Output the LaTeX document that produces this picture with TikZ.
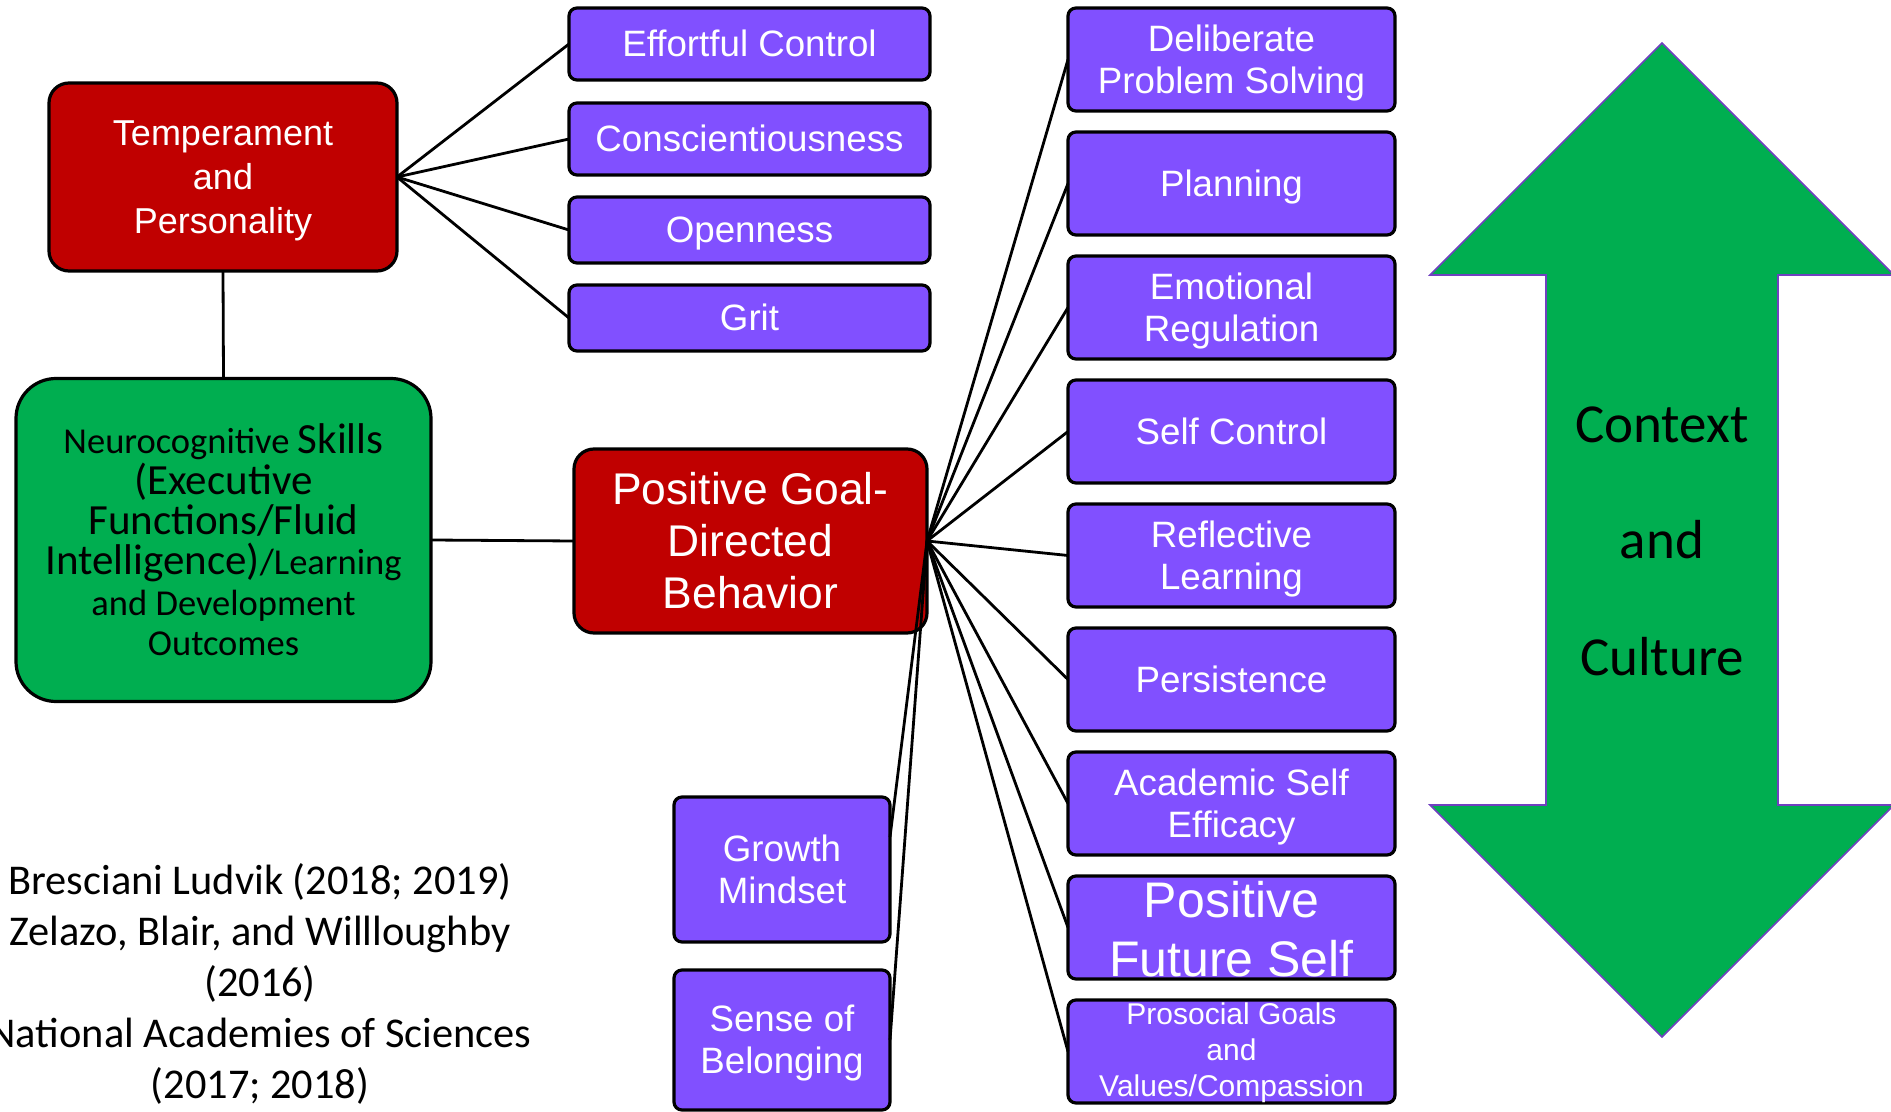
\documentclass[tikz,border=0pt]{standalone}
\usepackage{fontspec}
\setmainfont{Liberation Sans}
\newfontfamily\calibri{Carlito}
\usepackage{tikz}
\usetikzlibrary{positioning}
\usetikzlibrary{calc}
\definecolor{boxred}{HTML}{C00000}
\definecolor{boxpurple}{HTML}{8150FF}
\definecolor{boxgreen}{HTML}{00AE50}
\definecolor{arrowedge}{HTML}{7040C0}
\newcommand{\ncsmall}{\fontsize{18.25}{20.2}\selectfont}
\newcommand{\nclarge}{\fontsize{21.5}{20.2}\selectfont}
\newcommand{\lstrut}{\rule[-0.212em]{0pt}{1.117em}}

\begin{document}
\begin{tikzpicture}[x=0.5pt,y=-0.5pt,
  boxed/.style={draw,line width=1.6pt,text=white,align=center,inner sep=0pt,outer sep=0pt},
  struts/.style={execute at begin node=\lstrut, execute at end node=\lstrut},
  purple/.style={boxed,rounded corners=4pt,fill=boxpurple,font=\fontsize{18.35}{21}\selectfont},
  trait/.style={purple,struts},
  wide/.style={purple,minimum width=163.5pt,minimum height=51.5pt},
  side/.style={wide,struts},
  top/.style={trait,minimum width=180.5pt},
  redbox/.style={boxed,struts,rounded corners=10pt,fill=boxred},
  link/.style={line width=1.4pt}]
\useasboundingbox (0,0) rectangle (1891,1112);

% context and culture arrow
\filldraw[fill=boxgreen, draw=arrowedge, line width=0.8pt] (1662,43) -- (1894,275) -- (1778,275) -- (1778,805) -- (1894,805)
  -- (1662,1037) -- (1430,805) -- (1546,805) -- (1546,275) -- (1430,275) -- cycle;
\node[font=\calibri\fontsize{27.5}{58.25}\selectfont, align=center] (ctx) at (1662,541) {Context\\and\\Culture};

% left column
\node[redbox, minimum width=174pt, minimum height=94pt, font=\fontsize{18}{22}\selectfont] (temp) at (223,177) {\lstrut Temperament\\and\\Personality};
\node[draw, line width=1.6pt, rounded corners=20pt, fill=boxgreen, align=center, inner sep=0pt, outer sep=0pt,
  minimum width=207.5pt, minimum height=161.5pt, font=\calibri\ncsmall] (neuro) at (223.5,540)
  {Neurocognitive {\nclarge Skills}\\{\nclarge (Executive}\\{\nclarge Functions/Fluid}\\{\nclarge Intelligence)}/Learning\\and Development\\Outcomes};
\node[font=\calibri\fontsize{21.2}{25.6}\selectfont, align=center] (refs) at (260,984)
  {Bresciani Ludvik (2018; 2019)\\Zelazo, Blair, and Willloughby\\(2016)\\National Academies of Sciences\\(2017; 2018)};

% traits
\node[top, minimum height=36pt] (effort) at (749.5,44) {Effortful Control};
\node[top, minimum height=36pt, below=11.5pt of effort] (consc) {Conscientiousness};
\node[top, minimum height=33pt, below=11pt of consc] (open) {Openness};
\node[top, minimum height=33pt, below=11pt of open] (grit) {Grit};

% goal
\node[redbox, minimum width=176.5pt, minimum height=92pt, font=\fontsize{22.2}{26}\selectfont] (goal) at (750.5,541) {\lstrut Positive Goal-\\Directed\\Behavior};
\node[trait, minimum width=108pt, minimum height=72.5pt] (growth) at (782,869.5) {\lstrut Growth\\Mindset};
\node[trait, minimum width=108pt, minimum height=70pt, below=14pt of growth] (belong) {\lstrut Sense of\\Belonging};
\coordinate (growthin) at ($(growth.north east)!0.276!(growth.south east)$);

% skills
\node[side] (delib) at (1231.5,59.5) {\lstrut Deliberate\\Problem Solving};
\node[side, below=10.5pt of delib] (plan) {Planning};
\node[side, below=10.5pt of plan] (emo) {\lstrut Emotional\\Regulation};
\node[side, below=10.5pt of emo] (selfc) {Self Control};
\node[side, below=10.5pt of selfc] (refl) {\lstrut Reflective\\Learning};
\node[side, below=10.5pt of refl] (pers) {Persistence};
\node[side, below=10.5pt of pers] (acad) {\lstrut Academic Self\\Efficacy};
\node[wide, below=10.5pt of acad, font=\fontsize{25}{29.5}\selectfont] (future) {\rule{0pt}{0.8em}Positive\\Future Self};
\node[wide, below=10.5pt of future, font=\fontsize{15}{18}\selectfont] (prosoc) {\rule{0pt}{0.82em}Prosocial Goals\\and\\Values/Compassion};

\path[link] (temp.east) edge (effort.west) edge (consc.west) edge (open.west) edge (grit.west);
\path[link] (temp.south) edge (neuro.north) (neuro.east) edge (goal.west);
\path[link] (goal.east) edge (delib.west) edge (plan.west) edge (emo.west) edge (selfc.west) edge (refl.west)
  edge (pers.west) edge (acad.west) edge (future.west) edge (prosoc.west) edge (growthin) edge (belong.east);
\end{tikzpicture}
\end{document}
